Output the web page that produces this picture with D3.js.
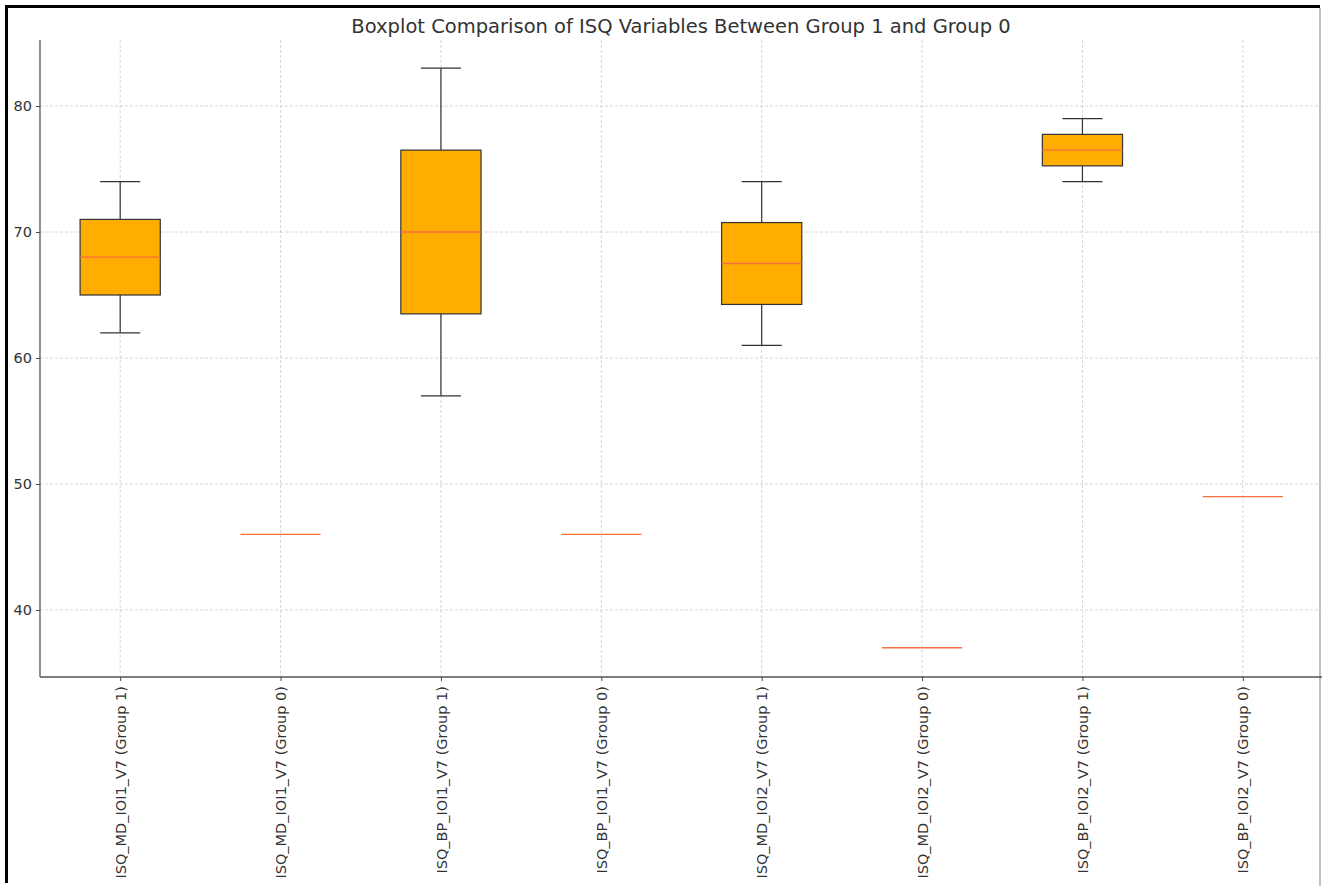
<!DOCTYPE html>
<html>
<head>
<meta charset="utf-8">
<script src="https://cdn.jsdelivr.net/npm/d3@7"></script>
<style>
  html, body { margin: 0; padding: 0; background: #fff; }
  svg { display: block; }
  text { font-family: "DejaVu Sans", sans-serif; fill: #333; }
</style>
</head>
<body>
<svg id="chart" width="1322" height="886"></svg>
<script>
const categories = [
  "ISQ_MD_IOI1_V7 (Group 1)", "ISQ_MD_IOI1_V7 (Group 0)",
  "ISQ_BP_IOI1_V7 (Group 1)", "ISQ_BP_IOI1_V7 (Group 0)",
  "ISQ_MD_IOI2_V7 (Group 1)", "ISQ_MD_IOI2_V7 (Group 0)",
  "ISQ_BP_IOI2_V7 (Group 1)", "ISQ_BP_IOI2_V7 (Group 0)"
];
const whiskerLow  = [62, 46, 57, 46, 61, 37, 74, 49];
const q1Values    = [65, 46, 63.5, 46, 64.25, 37, 75.25, 49];
const medians     = [68, 46, 70, 46, 67.5, 37, 76.5, 49];
const q3Values    = [71, 46, 76.5, 46, 70.75, 37, 77.75, 49];
const whiskerHigh = [74, 46, 83, 46, 74, 37, 79, 49];
const yTicks = [40, 50, 60, 70, 80];
const title = "Boxplot Comparison of ISQ Variables Between Group 1 and Group 0";

(function () {
const svg = d3.select("#chart");
const mLeft = 40, mRight = 1323, mTop = 40, mBottom = 677;

const x = d3.scaleLinear().domain([0.5, categories.length + 0.5]).range([mLeft, mRight]);
const y = d3.scaleLinear().domain([34.68, 85.24]).range([mBottom, mTop]);

// frame
svg.append("rect").attr("x", 5).attr("y", 5).attr("width", 1315).attr("height", 3).attr("fill", "#000");
svg.append("rect").attr("x", 5).attr("y", 5).attr("width", 3).attr("height", 878).attr("fill", "#000");
svg.append("line").attr("x1", 1320).attr("x2", 1320).attr("y1", 8).attr("y2", 886)
  .attr("stroke", "#aaa").attr("stroke-width", 1.5);

// grid
const grid = svg.append("g");
grid.selectAll(".gy").data(yTicks).enter().append("line")
  .attr("x1", mLeft).attr("x2", mRight)
  .attr("y1", d => y(d)).attr("y2", d => y(d))
  .attr("stroke", "#ccc").attr("stroke-width", 0.8).attr("stroke-dasharray", "3,2");
grid.selectAll(".gx").data(categories).enter().append("line")
  .attr("x1", (d, i) => x(i + 1)).attr("x2", (d, i) => x(i + 1))
  .attr("y1", mTop).attr("y2", mBottom)
  .attr("stroke", "#ccc").attr("stroke-width", 0.8).attr("stroke-dasharray", "3,2");

// boxes
const boxW = x(1.25) - x(0.75);
const capW = x(1.125) - x(0.875);
const g = svg.append("g");
categories.forEach((c, i) => {
  const cx = x(i + 1);
  const stroke = "#333";
  g.append("line").attr("x1", cx).attr("x2", cx).attr("y1", y(q3Values[i])).attr("y2", y(whiskerHigh[i]))
    .attr("stroke", stroke).attr("stroke-width", 1.2);
  g.append("line").attr("x1", cx).attr("x2", cx).attr("y1", y(q1Values[i])).attr("y2", y(whiskerLow[i]))
    .attr("stroke", stroke).attr("stroke-width", 1.2);
  if (whiskerHigh[i] > whiskerLow[i]) {
    g.append("line").attr("x1", cx - capW / 2).attr("x2", cx + capW / 2)
      .attr("y1", y(whiskerHigh[i])).attr("y2", y(whiskerHigh[i]))
      .attr("stroke", stroke).attr("stroke-width", 1.2);
    g.append("line").attr("x1", cx - capW / 2).attr("x2", cx + capW / 2)
      .attr("y1", y(whiskerLow[i])).attr("y2", y(whiskerLow[i]))
      .attr("stroke", stroke).attr("stroke-width", 1.2);
  }
  if (q3Values[i] > q1Values[i]) {
    g.append("rect").attr("x", cx - boxW / 2).attr("y", y(q3Values[i]))
      .attr("width", boxW).attr("height", y(q1Values[i]) - y(q3Values[i]))
      .attr("fill", "#ffad00").attr("stroke", stroke).attr("stroke-width", 1.2);
  }
  g.append("line").attr("x1", cx - boxW / 2).attr("x2", cx + boxW / 2)
    .attr("y1", y(medians[i])).attr("y2", y(medians[i]))
    .attr("stroke", "#f4703f").attr("stroke-width", 1.3);
});

// axes
const yAxis = d3.axisLeft(y).tickValues(yTicks).tickSize(4).tickPadding(4);
const yg = svg.append("g").attr("transform", `translate(${mLeft},0)`).call(yAxis);
yg.select(".domain").remove();
yg.selectAll("text").style("font-size", "14.5px").attr("fill", "#333");
yg.selectAll("line").attr("stroke", "#444");

const xAxis = d3.axisBottom(x).tickValues(d3.range(1, categories.length + 1))
  .tickFormat(d => categories[d - 1]).tickSize(4).tickPadding(5);
const xg = svg.append("g").attr("transform", `translate(0,${mBottom})`).call(xAxis);
xg.select(".domain").remove();
xg.selectAll("line").attr("stroke", "#444");
xg.selectAll("text")
  .style("font-size", "14.5px").attr("fill", "#333")
  .attr("text-anchor", "end")
  .attr("transform", "rotate(-90)")
  .attr("x", -9).attr("y", 0).attr("dy", "0.35em");

// spines
svg.append("line").attr("x1", mLeft).attr("x2", mLeft).attr("y1", mTop).attr("y2", mBottom)
  .attr("stroke", "#555").attr("stroke-width", 1.3);
svg.append("line").attr("x1", mLeft).attr("x2", 1322).attr("y1", mBottom).attr("y2", mBottom)
  .attr("stroke", "#555").attr("stroke-width", 1.3);

// title
svg.append("text").attr("x", (mLeft + 1322) / 2).attr("y", 33)
  .attr("text-anchor", "middle").style("font-size", "19.5px").text(title);
})();
</script>
</body>
</html>
